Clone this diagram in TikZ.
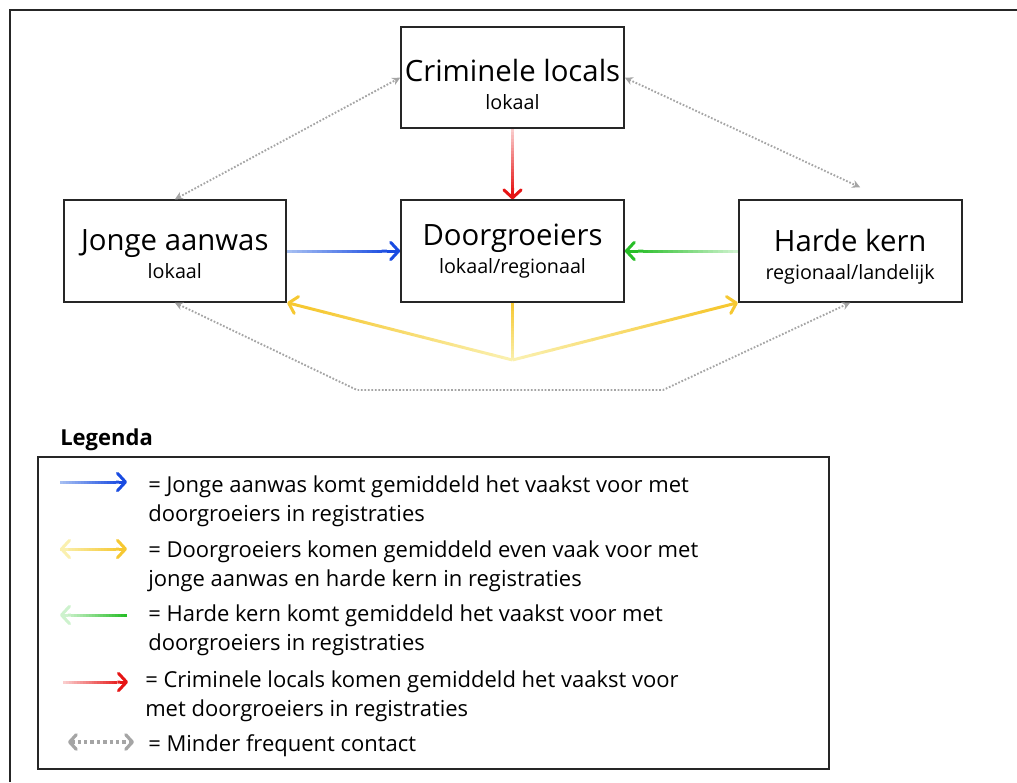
\documentclass[tikz,border=0pt]{standalone}
\usepackage{fontspec}
\setmainfont{Open Sans}
\usetikzlibrary{arrows.meta, calc, positioning}

\definecolor{blueDark}{RGB}{25,75,225}
\definecolor{blueLight}{RGB}{165,190,242}
\definecolor{greenDark}{RGB}{40,190,40}
\definecolor{greenLight}{RGB}{205,242,205}
\definecolor{redDark}{RGB}{230,20,20}
\definecolor{redLight}{RGB}{250,205,205}
\definecolor{yellowDark}{RGB}{246,200,50}
\definecolor{yellowLight}{RGB}{250,240,175}
\definecolor{dotGray}{RGB}{165,165,165}

\tikzset{
    group/.style={draw=black!85, line width=1.5pt, minimum width=167pt, minimum height=76pt, align=center, inner sep=0pt,
                  font=\fontsize{14.8}{21}\selectfont},
    fadeline/.style={line width=2.25pt},
    barb/.style={-{Straight Barb[length=6pt, width=13pt, round]}},
    minor/.style={dotGray, line width=1.4pt, dash pattern=on 1.3pt off 1.3pt, {Stealth[length=6pt, width=6pt]}-{Stealth[length=6pt, width=6pt]}},
    legtext/.style={anchor=west, align=left, font=\fontsize{16.5}{21.75}\selectfont, inner sep=0pt},
}

% line that fades from colour #3 at #1 to colour #4 at #2
\newcommand{\gradline}[4]{%
    \foreach \k [evaluate=\k as \p using int(\k*5)] in {0,...,19}
        \draw[fadeline, #4!\p!#3] ($(#1)!\k/20!(#2)$) -- ($(#1)!\k/20+0.052!(#2)$);
}
% same, with an arrow tip at #2
\newcommand{\gradarrow}[4]{%
    \coordinate (tipbase) at ($(#1)!0.88!(#2)$);
    \gradline{#1}{tipbase}{#3}{#4}
    \draw[fadeline, #4, barb] (tipbase) -- (#2);
}

\newcommand{\grouptext}[2]{{\fontsize{22}{21}\selectfont #1}\\#2}

\begin{document}
\begin{tikzpicture}[x=0.75pt, y=-0.75pt]
    \useasboundingbox (0,0) rectangle (1017,782);
    \draw[line width=1.5pt, black!85] (10,782) -- (10,10) -- (1017,10);

    \node[group]                                         (DG) at (512.5,251) {\grouptext{Doorgroeiers}{lokaal/regionaal}};
    \node[group, text height=41.2pt, left=84.75pt of DG]  (JA) {\grouptext{Jonge aanwas}{lokaal}};
    \node[group, text height=46.7pt, right=84.75pt of DG] (HK) {\grouptext{Harde kern}{regionaal/landelijk}};
    \node[group, text height=48.2pt, above=52.5pt of DG]  (CL) {\grouptext{Criminele locals}{lokaal}};

    % strong contacts
    \gradarrow{CL.south}{DG.north}{redLight}{redDark}
    \gradarrow{JA.east}{DG.west}{blueLight}{blueDark}
    \gradarrow{HK.west}{DG.east}{greenLight}{greenDark}

    \coordinate (split) at (512.5,360);
    \gradline{DG.south}{split}{yellowDark}{yellowLight}
    \gradarrow{split}{JA.south east}{yellowLight}{yellowDark}
    \gradarrow{split}{HK.south west}{yellowLight}{yellowDark}

    % less frequent contacts
    \coordinate (hkTop) at ($(HK.north)+(10,-12)$);
    \coordinate (lowL) at (357,390);
    \coordinate (lowR) at (663,390);
    \draw[minor] (JA.north) -- (CL.west);
    \draw[minor] (CL.east) -- (hkTop);
    \draw[minor] (JA.south) -- (lowL) -- (lowR) -- (HK.south);

    % legend
    \node[anchor=west, inner sep=0pt, font=\bfseries\fontsize{16.5}{19}\selectfont] (legTitle) at (60,440) {Legenda};
    \node[draw=black!85, line width=1.5pt, minimum width=593pt, minimum height=234pt] (legend) at (433.5,612.5) {};

    \gradarrow{60,482}{127,482}{blueLight}{blueDark}
    \gradarrow{60,549}{127,549}{yellowLight}{yellowDark}
    \draw[fadeline, yellowLight, barb] (68,549) -- (60,549);
    \gradarrow{127,615}{60,615}{greenDark}{greenLight}
    \gradarrow{63,682}{128,682}{redLight}{redDark}
    \draw[dotGray, line width=2.4pt, dash pattern=on 2.6pt off 2.2pt, {Straight Barb[length=5pt, width=11pt, round]}-{Straight Barb[length=5pt, width=11pt, round]}] (68,742) -- (134,742);

    \node[legtext] (legBlue)   at (148,501) {= Jonge aanwas komt gemiddeld het vaakst voor met\\doorgroeiers in registraties};
    \node[legtext] (legYellow) at (148,566) {= Doorgroeiers komen gemiddeld even vaak voor met\\jonge aanwas en harde kern in registraties};
    \node[legtext] (legGreen)  at (148,630) {= Harde kern komt gemiddeld het vaakst voor met\\doorgroeiers in registraties};
    \node[legtext] (legRed)    at (145,696.5) {= Criminele locals komen gemiddeld het vaakst voor\\met doorgroeiers in registraties};
    \node[legtext] (legGray)   at (148,746) {= Minder frequent contact};
\end{tikzpicture}
\end{document}
